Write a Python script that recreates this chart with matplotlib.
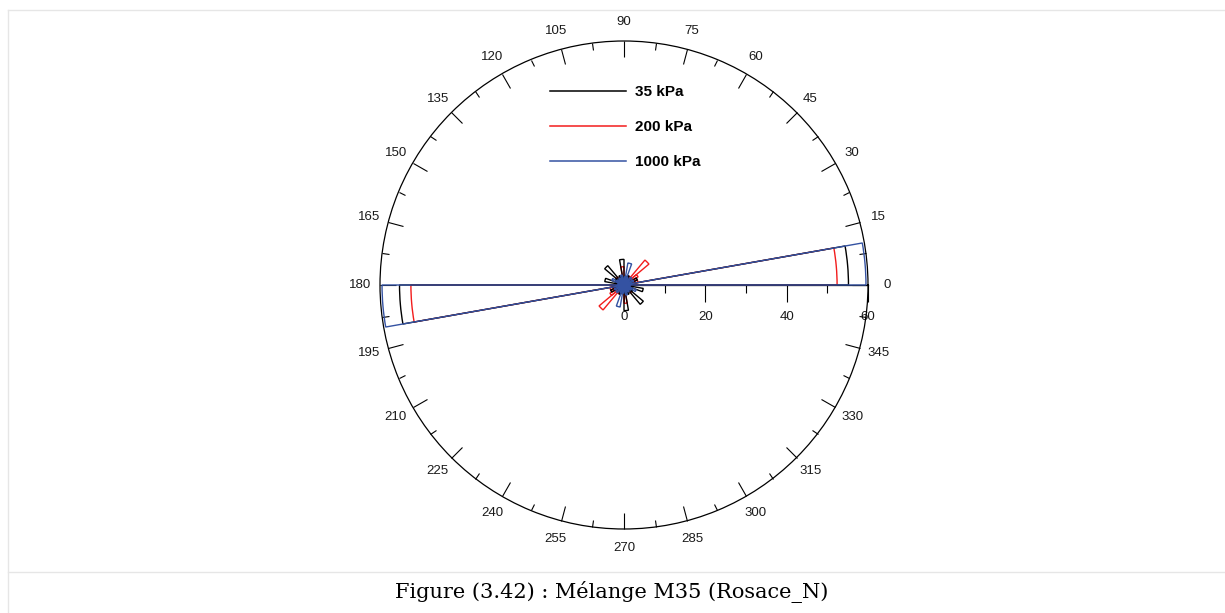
import numpy as np
import matplotlib
matplotlib.use("Agg")
import matplotlib.pyplot as plt
from matplotlib.lines import Line2D

plt.rcParams["font.family"] = ["Liberation Sans", "DejaVu Sans"]

# rose petals, 10 degree bins from 0 to 170 (orientation data, mirrored at +180)
bin_start = np.arange(0, 180, 10)
black_35 = [55.2, 1.5, 3.5, 1.5, 2.0, 1.5, 2.5, 1.5, 2.0, 6.3, 2.0, 2.5, 1.5, 6.2, 2.5, 1.5, 4.8, 1.5]
red_200 = [52.4, 3.5, 3.0, 4.0, 8.0, 2.5, 1.5, 2.0, 1.5, 4.5, 1.5, 2.0, 1.5, 2.5, 2.0, 1.5, 2.0, 1.5]
blue_1000 = [59.5, 1.5, 2.5, 1.5, 2.5, 1.5, 2.0, 5.5, 2.0, 1.5, 2.5, 1.5, 2.0, 1.5, 2.0, 3.2, 1.5, 1.5]

series = [
    ("200 kPa", red_200, "#f21c1c", 1),
    ("35 kPa", black_35, "black", 2),
    ("1000 kPa", blue_1000, "#3452a2", 3),
]
legend_order = ["35 kPa", "200 kPa", "1000 kPa"]

r_max = 60
r_ticks = [0, 20, 40, 60]
r_minor = [10, 30, 50]
theta_labels = np.arange(0, 360, 15)

caption = "Figure (3.42) : Mélange M35 (Rosace_N)"

W, H = 1225, 613
fig = plt.figure(figsize=(W / 100, H / 100), dpi=100)

# plot geometry in pixels (from top-left)
CX, CY, R = 624, 285, 244

ax = fig.add_axes([(CX - R) / W, (H - CY - R) / H, 2 * R / W, 2 * R / H],
                  projection="polar")
ax.set_zorder(2)
ax.patch.set_alpha(0)

angles = np.concatenate([bin_start, bin_start + 180])
for name, vals, col, z in series:
    v = np.concatenate([vals, vals])
    ax.bar(np.deg2rad(angles), v, width=np.deg2rad(10), align="edge",
           fill=False, edgecolor=col, linewidth=1.0, zorder=z)

ax.set_rlim(0, r_max)
ax.set_yticks([])
ax.grid(False)
ax.spines["polar"].set_linewidth(0.9)
ax.set_xticks(np.deg2rad(theta_labels))
ax.set_xticklabels([str(t) for t in theta_labels], fontsize=9.5, color="#1a1a1a")
ax.set_xticks(np.deg2rad(theta_labels + 7.5), minor=True)
# theta tick marks sit on the outer circle (tick2 in polar axes)
ax.tick_params(axis="x", which="both", bottom=False, top=True)
ax.tick_params(axis="x", which="major", direction="in", length=11.5, width=0.8, pad=7)
ax.tick_params(axis="x", which="minor", direction="in", length=5, width=0.8)

# radial scale drawn along the 0 degree line
axr = fig.add_axes([CX / W, (H - CY) / H, R / W, 0.0001])
axr.set_zorder(1)
axr.patch.set_alpha(0)
for s in ["top", "left", "right"]:
    axr.spines[s].set_visible(False)
axr.spines["bottom"].set_linewidth(0.9)
axr.set_xlim(0, r_max)
axr.set_yticks([])
axr.set_xticks(r_ticks)
axr.set_xticks(r_minor, minor=True)
axr.tick_params(axis="x", which="major", direction="out", length=12, width=0.8,
                labelsize=9.5, pad=7, labelcolor="#1a1a1a")
axr.tick_params(axis="x", which="minor", direction="out", length=6, width=0.8)

handles = {name: Line2D([], [], color=col, linewidth=1.1) for name, _, col, _ in series}
fig.legend([handles[n] for n in legend_order], legend_order,
           loc="upper left", bbox_to_anchor=(550 / W, 1 - 85 / H),
           frameon=False, handlelength=5.0, handletextpad=0.55,
           labelspacing=1.38, borderpad=0, borderaxespad=0,
           prop={"weight": "bold", "size": 11})

# page frame and caption
frame = "#e6e6e6"
fig.add_artist(Line2D([8 / W, 1], [1 - 10 / H, 1 - 10 / H], color=frame, lw=1))
fig.add_artist(Line2D([8 / W, 8 / W], [0, 1 - 10 / H], color=frame, lw=1))
fig.add_artist(Line2D([8 / W, 1], [1 - 572 / H, 1 - 572 / H], color=frame, lw=1))
fig.text(612 / W, 1 - 592 / H, caption, ha="center", va="center",
         fontsize=15, family="DejaVu Serif", color="black")

fig.savefig("out.png", dpi=100)
